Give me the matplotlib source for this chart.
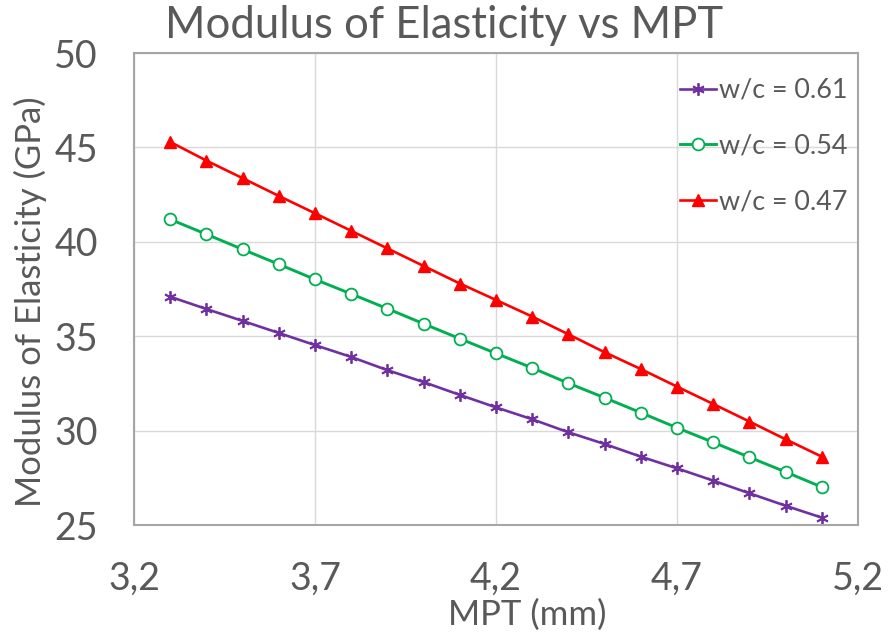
import matplotlib
matplotlib.use("Agg")
import matplotlib.pyplot as plt
from matplotlib.ticker import FixedLocator, FuncFormatter

mpt = [3.3, 3.4, 3.5, 3.6, 3.7, 3.8, 3.9, 4.0, 4.1, 4.2,
       4.3, 4.4, 4.5, 4.6, 4.7, 4.8, 4.9, 5.0, 5.1]
e_061 = [37.09, 36.44, 35.81, 35.17, 34.53, 33.90, 33.20, 32.57, 31.89, 31.23,
         30.60, 29.91, 29.29, 28.62, 28.00, 27.35, 26.68, 26.02, 25.39]
e_054 = [41.19, 40.40, 39.60, 38.81, 38.01, 37.24, 36.46, 35.66, 34.87, 34.09,
         33.32, 32.51, 31.74, 30.95, 30.15, 29.38, 28.59, 27.81, 27.01]
e_047 = [45.29, 44.30, 43.37, 42.43, 41.51, 40.58, 39.65, 38.72, 37.79, 36.92,
         36.04, 35.10, 34.15, 33.26, 32.33, 31.41, 30.48, 29.54, 28.62]
labels = ["w/c = 0.61", "w/c = 0.54", "w/c = 0.47"]
xticks = [3.2, 3.7, 4.2, 4.7, 5.2]
yticks = [25, 30, 35, 40, 45, 50]

plt.rcParams['font.family'] = ['Lato', 'DejaVu Sans']
txt = '#595959'

fig = plt.figure(figsize=(8.89, 6.41), dpi=100)
ax = fig.add_axes([134/889, 1-525/641, (858-134)/889, (525-53)/641])

ax.plot(mpt, e_061, color='#7030A0', lw=1.9, marker=(6, 2, 0), ms=9, mew=1.3,
        label=labels[0])
ax.plot(mpt, e_054, color='#00B050', lw=2.1, marker='o', ms=8.5, mfc='white',
        mec='#00B050', mew=1.3, label=labels[1])
ax.plot(mpt, e_047, color='#FF0000', lw=1.9, marker='^', ms=9, mec='#FF0000',
        label=labels[2])

ax.set_xlim(3.2, 5.2)
ax.set_ylim(25, 50)
ax.xaxis.set_major_locator(FixedLocator(xticks))
ax.yaxis.set_major_locator(FixedLocator(yticks))
ax.xaxis.set_major_formatter(FuncFormatter(lambda v, p: f"{v:.1f}".replace('.', ',')))
ax.yaxis.set_major_formatter(FuncFormatter(lambda v, p: f"{v:.0f}"))
ax.grid(True, color='#D9D9D9', lw=1)
ax.set_axisbelow(True)
for s in ax.spines.values():
    s.set_color('#A6A6A6')
    s.set_linewidth(1.5)
ax.tick_params(length=0, labelsize=27, colors=txt)
ax.tick_params(axis='x', pad=26)
ax.tick_params(axis='y', pad=26)

ax.set_xlabel("MPT (mm)", fontsize=25, color=txt, labelpad=0)
ax.xaxis.set_label_coords((527-134)/(858-134), -0.155)
ax.set_ylabel("Modulus of Elasticity (GPa)", fontsize=25, color=txt)
ax.yaxis.set_label_coords((47-134)/(858-134), (525-302)/(525-53))
fig.text(444/889, 1-25/641, "Modulus of Elasticity vs MPT", ha='center', va='center',
         fontsize=31.4, color=txt)

leg = ax.legend(loc='upper right', frameon=False, fontsize=19.4, labelcolor=txt,
                handlelength=1.35, handletextpad=0.1, labelspacing=1.15,
                borderaxespad=0.0, bbox_to_anchor=(1.0, 0.97))

fig.savefig("out.png", dpi=100, facecolor='white')
